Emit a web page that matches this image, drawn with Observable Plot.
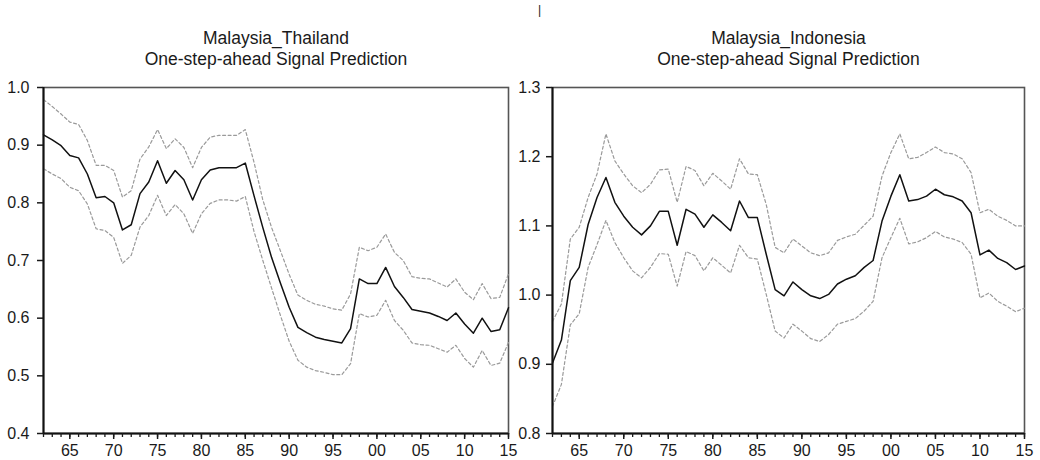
<!DOCTYPE html>
<html>
<head>
<meta charset="utf-8">
<script src="https://cdn.jsdelivr.net/npm/d3@7"></script>
<script src="https://cdn.jsdelivr.net/npm/@observablehq/plot@0.6"></script>
<style>
  html, body { margin: 0; padding: 0; background: #fff; }
  #wrap { position: relative; width: 1040px; height: 460px; overflow: hidden;
          font-family: "Liberation Sans", Arial, sans-serif; }
  .panel { position: absolute; top: 0; }
  .stray { position: absolute; left: 538px; top: 3px; font-size: 12px; color: #222; }
</style>
</head>
<body>
<div id="wrap"><div class="stray">|</div></div>
<script>
// ---- data (1962–2015) ----
const years = d3.range(1962, 2016);

const thTitle1 = "Malaysia_Thailand";
const thTitle2 = "One-step-ahead Signal Prediction";
const thCenter = [0.918,0.909,0.899,0.882,0.878,0.850,0.809,0.811,0.800,0.753,
                  0.762,0.816,0.836,0.873,0.834,0.856,0.840,0.805,0.840,0.857,
                  0.861,0.861,0.861,0.869,0.812,0.757,0.705,0.661,0.619,0.584,
                  0.575,0.567,0.563,0.560,0.557,0.582,0.668,0.660,0.660,0.688,
                  0.655,0.636,0.615,0.612,0.609,0.603,0.596,0.609,0.590,0.574,
                  0.600,0.577,0.580,0.618];
const thUpper  = [0.979,0.967,0.954,0.940,0.936,0.908,0.865,0.865,0.856,0.810,
                  0.821,0.876,0.897,0.927,0.894,0.911,0.896,0.861,0.896,0.914,
                  0.917,0.917,0.917,0.927,0.870,0.805,0.757,0.717,0.676,0.640,
                  0.631,0.624,0.621,0.616,0.614,0.642,0.723,0.717,0.723,0.746,
                  0.714,0.700,0.672,0.669,0.668,0.661,0.654,0.668,0.645,0.632,
                  0.660,0.634,0.636,0.677];
const thLower  = [0.859,0.850,0.842,0.827,0.821,0.798,0.755,0.752,0.740,0.695,
                  0.709,0.758,0.778,0.813,0.778,0.797,0.781,0.747,0.781,0.799,
                  0.805,0.805,0.803,0.811,0.750,0.700,0.652,0.605,0.560,0.527,
                  0.515,0.509,0.506,0.502,0.502,0.521,0.608,0.602,0.605,0.631,
                  0.596,0.579,0.557,0.554,0.553,0.547,0.541,0.553,0.530,0.515,
                  0.544,0.518,0.522,0.558];
const thYTicks = [0.4,0.5,0.6,0.7,0.8,0.9,1.0];

const idTitle1 = "Malaysia_Indonesia";
const idTitle2 = "One-step-ahead Signal Prediction";
const idCenter = [0.902,0.935,1.021,1.040,1.102,1.141,1.170,1.134,1.114,1.098,
                  1.087,1.100,1.121,1.121,1.072,1.124,1.117,1.098,1.116,1.105,
                  1.093,1.136,1.112,1.112,1.059,1.008,0.999,1.019,1.008,0.999,
                  0.995,1.001,1.016,1.023,1.028,1.040,1.050,1.107,1.143,1.174,
                  1.136,1.138,1.143,1.153,1.145,1.142,1.136,1.119,1.058,1.065,
                  1.053,1.047,1.037,1.042];
const idUpper  = [0.962,0.987,1.081,1.098,1.141,1.175,1.233,1.194,1.175,1.158,
                  1.148,1.160,1.181,1.182,1.134,1.186,1.180,1.158,1.176,1.165,
                  1.153,1.197,1.175,1.174,1.131,1.069,1.061,1.081,1.071,1.061,
                  1.057,1.061,1.079,1.084,1.088,1.101,1.114,1.172,1.206,1.233,
                  1.197,1.199,1.206,1.214,1.206,1.204,1.197,1.177,1.119,1.124,
                  1.114,1.108,1.100,1.100];
const idLower  = [0.839,0.871,0.957,0.973,1.040,1.073,1.108,1.076,1.054,1.035,
                  1.025,1.040,1.060,1.059,1.013,1.063,1.057,1.035,1.054,1.043,
                  1.032,1.072,1.054,1.052,1.001,0.948,0.938,0.958,0.948,0.937,
                  0.933,0.943,0.958,0.962,0.966,0.977,0.991,1.054,1.083,1.111,
                  1.074,1.077,1.083,1.092,1.084,1.081,1.076,1.059,0.996,1.003,
                  0.991,0.984,0.976,0.981];
const idYTicks = [0.8,0.9,1.0,1.1,1.2,1.3];

const xMajor = [1965,1970,1975,1980,1985,1990,1995,2000,2005,2010,2015];
const xLabel = d => String(d % 100).padStart(2, "0");

function panel({title1, title2, center, upper, lower, yTicks, left, marginLeft, marginRight, tickPadding}) {
  const rows = years.map((year, i) => ({year, center: center[i], upper: upper[i], lower: lower[i]}));
  const dash = {stroke: "#9a9a9a", strokeWidth: 1.2, strokeDasharray: "3,2.5"};
  const chart = Plot.plot({
    width: 520,
    height: 460,
    marginTop: 87,
    marginBottom: 27,
    marginLeft,
    marginRight,
    style: {fontFamily: "'Liberation Sans', Arial, sans-serif", color: "#1a1a1a", background: "transparent", overflow: "visible"},
    x: {domain: [years[0], years[years.length - 1]], label: null},
    y: {domain: [yTicks[0], yTicks[yTicks.length - 1]], label: null},
    marks: [
      Plot.frame({stroke: "#555", strokeWidth: 1.6}),
      Plot.lineY(rows, {x: "year", y: "upper", ...dash}),
      Plot.lineY(rows, {x: "year", y: "lower", ...dash}),
      Plot.lineY(rows, {x: "year", y: "center", stroke: "#111", strokeWidth: 1.5}),
      Plot.ruleX([years[0]], {stroke: "#111", strokeWidth: 2}),
      Plot.ruleY([yTicks[0]], {stroke: "#111", strokeWidth: 2}),
      Plot.axisY({ticks: yTicks, tickSize: 6, tickPadding, tickFormat: ".1f", fontSize: 16, strokeWidth: 1.5, label: null}),
      Plot.axisX({ticks: years, tickSize: 4, tickFormat: () => "", strokeWidth: 1.3, label: null}),
      Plot.axisX({ticks: xMajor, tickSize: 6, tickPadding: 5, tickFormat: xLabel, fontSize: 16, strokeWidth: 1.5, label: null}),
      Plot.text([title1], {text: d => d, frameAnchor: "top", dy: -56, fontSize: 17.5, fill: "#1a1a1a"}),
      Plot.text([title2], {text: d => d, frameAnchor: "top", dy: -35, fontSize: 17.5, fill: "#1a1a1a"})
    ]
  });
  chart.classList.add("panel");
  chart.style.left = left + "px";
  document.getElementById("wrap").appendChild(chart);
}

panel({title1: thTitle1, title2: thTitle2, center: thCenter, upper: thUpper, lower: thLower,
       yTicks: thYTicks, left: 0, marginLeft: 43, marginRight: 12, tickPadding: 8});
panel({title1: idTitle1, title2: idTitle2, center: idCenter, upper: idUpper, lower: idLower,
       yTicks: idYTicks, left: 520, marginLeft: 32, marginRight: 16, tickPadding: 6});
</script>
</body>
</html>
